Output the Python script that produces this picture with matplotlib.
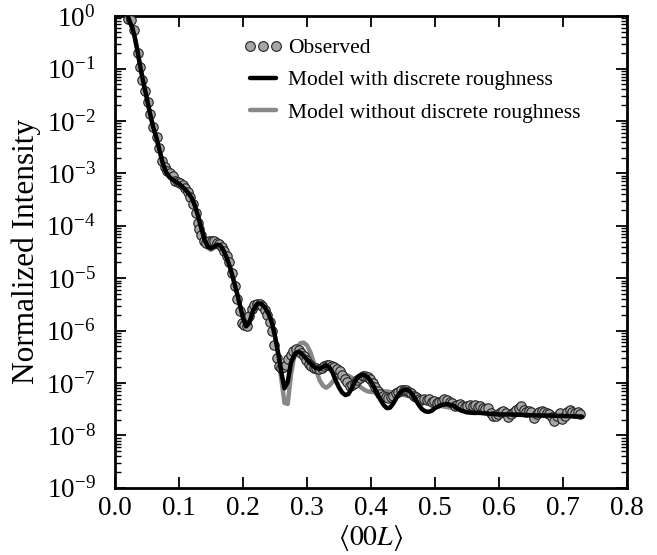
import numpy as np
import matplotlib
matplotlib.use("Agg")
import matplotlib.pyplot as plt
from matplotlib.ticker import LogLocator, NullFormatter

plt.rcParams['font.family'] = ['Liberation Serif', 'DejaVu Serif']
plt.rcParams['mathtext.fontset'] = 'stix'

# ---- data (log10 of normalized intensity) ----
obs_L = [0.021, 0.025, 0.030, 0.036, 0.039, 0.043, 0.047, 0.052, 0.055, 0.060,
         0.065, 0.069, 0.073, 0.078, 0.082, 0.086, 0.090, 0.094, 0.098, 0.102,
         0.106, 0.110, 0.114, 0.118, 0.122, 0.126, 0.129, 0.132, 0.135, 0.139,
         0.143, 0.147, 0.151, 0.155, 0.159, 0.163, 0.167, 0.171, 0.175, 0.179,
         0.183, 0.187, 0.191, 0.195, 0.198, 0.202, 0.206, 0.210, 0.214, 0.218,
         0.222, 0.226, 0.230, 0.234, 0.238, 0.242, 0.245, 0.249, 0.253, 0.256,
         0.260, 0.264, 0.268, 0.271, 0.275, 0.279, 0.283, 0.287, 0.291, 0.295,
         0.299, 0.303, 0.307, 0.311, 0.315, 0.319, 0.323, 0.327, 0.331, 0.335,
         0.339, 0.343, 0.347, 0.351, 0.355, 0.359, 0.363, 0.367, 0.371, 0.375,
         0.379, 0.383, 0.387, 0.391, 0.395, 0.399, 0.403, 0.407, 0.411, 0.415,
         0.419, 0.423, 0.427, 0.431, 0.435, 0.439, 0.443, 0.447, 0.451, 0.455,
         0.459, 0.463, 0.467, 0.471, 0.475, 0.479, 0.483, 0.487, 0.491, 0.495,
         0.499, 0.503, 0.507, 0.511, 0.515, 0.519, 0.523, 0.527, 0.531, 0.535,
         0.539, 0.543, 0.547, 0.551, 0.555, 0.559, 0.563, 0.567, 0.571, 0.575,
         0.579, 0.583, 0.587, 0.591, 0.595, 0.599, 0.603, 0.607, 0.611, 0.615,
         0.619, 0.623, 0.627, 0.631, 0.635, 0.639, 0.643, 0.647, 0.651, 0.655,
         0.659, 0.663, 0.667, 0.671, 0.675, 0.679, 0.683, 0.687, 0.691, 0.695,
         0.699, 0.703, 0.707, 0.711, 0.715, 0.719, 0.723, 0.727]
obs_logI = [-0.05, -0.08, -0.27, -0.71, -0.98, -1.22, -1.43, -1.63, -1.87, -2.11,
            -2.30, -2.51, -2.76, -2.88, -2.95, -3.00, -3.06, -3.14, -3.17, -3.18,
            -3.22, -3.28, -3.36, -3.45, -3.58, -3.76, -3.94, -4.06, -4.18, -4.29,
            -4.32, -4.30, -4.29, -4.30, -4.32, -4.35, -4.40, -4.48, -4.58, -4.70,
            -4.90, -5.15, -5.40, -5.62, -5.85, -5.90, -5.92, -5.72, -5.58, -5.52,
            -5.50, -5.50, -5.53, -5.60, -5.70, -5.84, -6.00, -6.28, -6.52, -6.67,
            -6.72, -6.70, -6.66, -6.55, -6.46, -6.39, -6.36, -6.37, -6.42, -6.48,
            -6.56, -6.63, -6.68, -6.71, -6.72, -6.73, -6.71, -6.68, -6.65, -6.65,
            -6.67, -6.70, -6.74, -6.78, -6.85, -6.93, -6.99, -7.05, -7.04, -7.00,
            -6.94, -6.90, -6.87, -6.86, -6.88, -6.93, -7.00, -7.08, -7.15, -7.21,
            -7.25, -7.27, -7.28, -7.27, -7.24, -7.20, -7.17, -7.14, -7.13, -7.14,
            -7.17, -7.20, -7.24, -7.27, -7.30, -7.33, -7.30, -7.33, -7.31, -7.36,
            -7.35, -7.38, -7.36, -7.34, -7.31, -7.32, -7.36, -7.39, -7.43, -7.41,
            -7.40, -7.44, -7.45, -7.43, -7.41, -7.43, -7.42, -7.45, -7.44, -7.47,
            -7.49, -7.48, -7.57, -7.63, -7.62, -7.60, -7.56, -7.53, -7.57, -7.64,
            -7.60, -7.55, -7.52, -7.47, -7.44, -7.52, -7.56, -7.54, -7.55, -7.66,
            -7.60, -7.55, -7.53, -7.56, -7.58, -7.60, -7.65, -7.72, -7.62, -7.58,
            -7.69, -7.62, -7.56, -7.52, -7.55, -7.57, -7.56, -7.59]

model_L = [0.020, 0.023, 0.027, 0.030, 0.035, 0.040, 0.045, 0.050, 0.055, 0.060,
           0.065, 0.070, 0.075, 0.080, 0.085, 0.090, 0.095, 0.100, 0.105, 0.110,
           0.115, 0.120, 0.125, 0.130, 0.135, 0.140, 0.145, 0.150, 0.155, 0.160,
           0.165, 0.170, 0.175, 0.180, 0.185, 0.190, 0.195, 0.200, 0.205, 0.210,
           0.215, 0.220, 0.225, 0.230, 0.235, 0.240, 0.245, 0.250, 0.255, 0.260,
           0.265, 0.270, 0.275, 0.280, 0.285, 0.290, 0.295, 0.300, 0.305, 0.310,
           0.315, 0.320, 0.325, 0.330, 0.335, 0.340, 0.345, 0.350, 0.355, 0.360,
           0.365, 0.370, 0.375, 0.380, 0.385, 0.390, 0.395, 0.400, 0.405, 0.410,
           0.415, 0.420, 0.425, 0.430, 0.435, 0.440, 0.445, 0.450, 0.455, 0.460,
           0.465, 0.470, 0.475, 0.480, 0.485, 0.490, 0.495, 0.500, 0.510, 0.520,
           0.530, 0.540, 0.550, 0.560, 0.570, 0.580, 0.600, 0.620, 0.640, 0.660,
           0.680, 0.700, 0.730]
with_logI = [0.00, -0.10, -0.22, -0.35, -0.65, -1.00, -1.30, -1.58, -1.87, -2.13,
             -2.33, -2.58, -2.82, -2.98, -3.07, -3.12, -3.16, -3.20, -3.25, -3.31,
             -3.38, -3.47, -3.62, -3.82, -4.05, -4.27, -4.40, -4.43, -4.40, -4.36,
             -4.38, -4.48, -4.62, -4.80, -5.02, -5.25, -5.50, -5.75, -5.92, -5.85,
             -5.65, -5.52, -5.48, -5.50, -5.57, -5.68, -5.84, -6.10, -6.42, -6.80,
             -7.10, -6.98, -6.62, -6.46, -6.41, -6.42, -6.48, -6.55, -6.62, -6.68,
             -6.72, -6.73, -6.69, -6.66, -6.70, -6.80, -6.95, -7.08, -7.18, -7.23,
             -7.21, -7.10, -6.97, -6.88, -6.85, -6.85, -6.89, -6.97, -7.08, -7.20,
             -7.32, -7.42, -7.48, -7.47, -7.39, -7.28, -7.19, -7.14, -7.12, -7.15,
             -7.22, -7.32, -7.42, -7.50, -7.54, -7.55, -7.53, -7.48, -7.42, -7.40,
             -7.44, -7.52, -7.56, -7.57, -7.57, -7.58, -7.60, -7.60, -7.61, -7.62,
             -7.62, -7.63, -7.64]
without_logI = [0.00, -0.10, -0.22, -0.35, -0.65, -1.00, -1.30, -1.58, -1.87, -2.13,
                -2.33, -2.58, -2.82, -2.98, -3.07, -3.12, -3.16, -3.20, -3.25, -3.31,
                -3.38, -3.47, -3.62, -3.82, -4.05, -4.28, -4.42, -4.46, -4.42, -4.37,
                -4.39, -4.48, -4.62, -4.80, -5.02, -5.25, -5.50, -5.75, -5.90, -5.83,
                -5.64, -5.52, -5.48, -5.50, -5.57, -5.68, -5.84, -6.10, -6.48, -6.92,
                -7.38, -7.40, -6.85, -6.50, -6.32, -6.24, -6.23, -6.28, -6.40, -6.58,
                -6.78, -6.95, -7.05, -7.09, -7.05, -6.98, -6.92, -6.88, -6.86, -6.85,
                -6.86, -6.90, -6.96, -7.03, -7.09, -7.13, -7.16, -7.17, -7.17, -7.17,
                -7.17, -7.16, -7.16, -7.17, -7.18, -7.19, -7.21, -7.22, -7.24, -7.25,
                -7.27, -7.29, -7.31, -7.33, -7.35, -7.37, -7.39, -7.41, -7.44, -7.46,
                -7.48, -7.50, -7.53, -7.55, -7.56, -7.58, -7.60, -7.60, -7.61, -7.62,
                -7.62, -7.63, -7.64]

x_ticks = [0.0, 0.1, 0.2, 0.3, 0.4, 0.5, 0.6, 0.7, 0.8]

obs_I = 10.0 ** np.array(obs_logI)
with_I = 10.0 ** np.array(with_logI)
without_I = 10.0 ** np.array(without_logI)

fig = plt.figure(figsize=(6.57, 5.55), dpi=100)
ax = fig.add_axes([0.175, 0.121, 0.779, 0.850])

ax.plot(model_L, without_I, color='#888888', lw=3.2, solid_capstyle='round',
        label='Model without discrete roughness', zorder=2)
ax.plot(obs_L, obs_I, linestyle='none', marker='o', ms=6.8, mfc='#a6a6a6',
        mec='#222222', mew=0.8, label='Observed', zorder=3)
ax.plot(model_L, with_I, color='black', lw=3.2, solid_capstyle='round',
        label='Model with discrete roughness', zorder=4)

ax.set_yscale('log')
ax.set_xlim(0.0, 0.8)
ax.set_ylim(1e-9, 1.0)
ax.set_xticks(x_ticks)
ax.set_xticklabels([f'{v:.1f}' for v in x_ticks])
ax.yaxis.set_major_locator(LogLocator(base=10, numticks=20))
ax.yaxis.set_minor_locator(LogLocator(base=10, subs=np.arange(2, 10), numticks=20))
ax.yaxis.set_minor_formatter(NullFormatter())

ax.tick_params(which='both', direction='in', top=True, right=True, labelsize=19.5)
ax.tick_params(which='major', length=8, width=1.3)
ax.tick_params(which='minor', length=4, width=1.0)
ax.tick_params(axis='x', pad=6)
ax.tick_params(axis='y', pad=14)
for s in ax.spines.values():
    s.set_linewidth(2.0)

ax.set_ylabel('Normalized Intensity', fontsize=22.5, labelpad=4)
ax.set_xlabel(r'$\langle 00L\rangle$', fontsize=20, labelpad=1)

handles, labels = ax.get_legend_handles_labels()
order = [1, 2, 0]
leg = ax.legend([handles[i] for i in order], [labels[i] for i in order],
                loc='upper left', bbox_to_anchor=(0.252, 0.953), frameon=False,
                fontsize=15.5, numpoints=3, handlelength=1.8, handletextpad=0.25,
                labelspacing=0.56, borderaxespad=0, borderpad=0)
for h in leg.legend_handles:
    if h.get_marker() == 'o':
        h.set_markersize(7)

fig.savefig('out.png', dpi=100)
